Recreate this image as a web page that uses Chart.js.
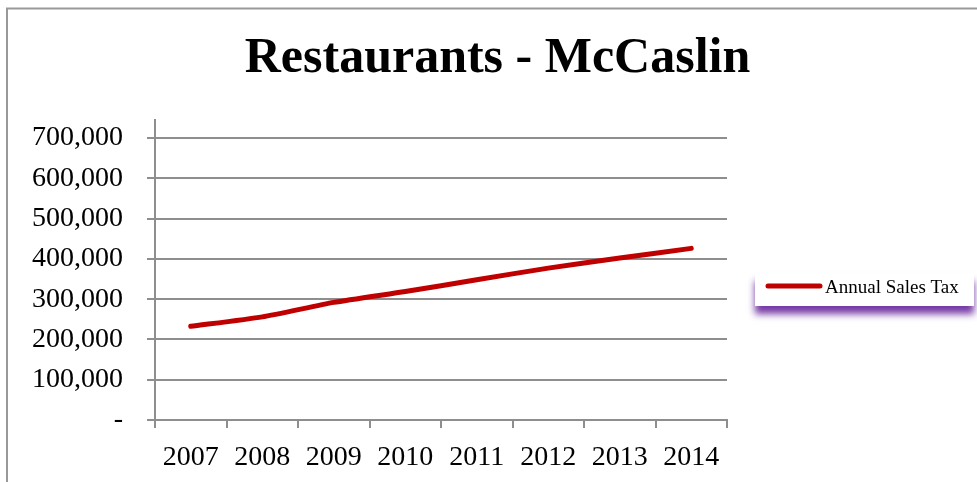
<!DOCTYPE html>
<html>
<head>
<meta charset="utf-8">
<script src="https://cdn.jsdelivr.net/npm/chart.js@4.4.1/dist/chart.umd.min.js"></script>
<style>
  html, body { margin: 0; padding: 0; background: #fff; }
  #wrap { width: 977px; height: 482px; position: relative; }
</style>
</head>
<body>
<div id="wrap"><canvas id="lineChart"></canvas></div>
<script>
/************************ DATA ************************** */
const years = ["2007", "2008", "2009", "2010", "2011", "2012", "2013", "2014"];
const salesTax = [232500, 256000, 292000, 319000, 348000, 377000, 402000, 426000];
const seriesLabel = "Annual Sales Tax";
const chartTitle = "Restaurants - McCaslin";

const SERIF = "'Liberation Serif', 'Times New Roman', serif";
const gridColor = "#8e8e8e";

/************************ PLUGINS ************************** */
// outer frame + little y axis stub above the plot
const framePlugin = {
  id: "frame",
  beforeDraw(chart) {
    const c = chart.ctx;
    c.save();
    c.fillStyle = "#fff";
    c.fillRect(0, 0, chart.width, chart.height);
    c.strokeStyle = "#999";
    c.lineWidth = 2;
    c.strokeRect(7, 8.5, chart.width + 20, chart.height + 20);
    c.restore();
  },
  afterDraw(chart) {
    const c = chart.ctx;
    const x = chart.scales.y.right;
    c.save();
    c.strokeStyle = gridColor;
    c.lineWidth = 2;
    c.beginPath();
    c.moveTo(x, 119);
    c.lineTo(x, chart.chartArea.top);
    c.stroke();
    c.restore();
  },
};

// legend box with the purple drop shadow
const legendBox = {
  id: "legendBox",
  afterDraw(chart) {
    const c = chart.ctx;
    const ds = chart.data.datasets[0];
    const bx = 755, by = 273, bw = 219, bh = 33;
    c.save();
    c.shadowColor = "rgba(112, 48, 160, 0.95)";
    c.shadowBlur = 7;
    c.shadowOffsetY = 8;
    c.fillStyle = "#fff";
    c.fillRect(bx, by, bw, bh);
    c.restore();

    c.save();
    c.strokeStyle = ds.borderColor;
    c.lineWidth = 5;
    c.lineCap = "round";
    c.beginPath();
    c.moveTo(768, 286);
    c.lineTo(820, 286);
    c.stroke();
    c.fillStyle = "#000";
    c.font = "19px " + SERIF;
    c.textBaseline = "alphabetic";
    c.fillText(ds.label, 825, 293);
    c.restore();
  },
};

/************************ CHART ************************** */
const ctx = document.getElementById("lineChart");
const config = {
  type: "line",
  data: {
    labels: years,
    datasets: [
      {
        label: seriesLabel,
        data: salesTax,
        borderColor: "#C00000",
        backgroundColor: "#C00000",
        borderWidth: 5,
        borderCapStyle: "round",
        pointRadius: 0,
        tension: 0.2,
        yAxisID: "y",
      },
    ],
  },
  options: {
    responsive: true,
    maintainAspectRatio: false,
    animation: false,
    layout: {
      padding: { left: 18, right: 0, top: 8, bottom: 0 },
    },
    scales: {
      x: {
        offset: true,
        grid: {
          offset: true,
          drawOnChartArea: false,
          drawTicks: true,
          tickLength: 8,
          color: gridColor,
          lineWidth: 2,
        },
        border: { color: gridColor, width: 2 },
        ticks: {
          color: "#000",
          font: { family: SERIF, size: 28 },
          padding: 13,
          maxRotation: 0,
        },
        afterFit: (scale) => {
          scale.height = 62;
        },
      },
      y: {
        min: 0,
        max: 700000,
        grid: {
          color: gridColor,
          lineWidth: 2,
          drawTicks: true,
          tickLength: 8,
        },
        border: { color: gridColor, width: 2 },
        ticks: {
          stepSize: 100000,
          color: "#000",
          font: { family: SERIF, size: 28 },
          padding: 24,
          callback: (value) => (value === 0 ? "-" : value.toLocaleString("en-US")),
        },
        afterFit: (scale) => {
          scale.width = 137;
        },
      },
      // empty right-hand axis, reserves room for the legend
      yRight: {
        position: "right",
        display: true,
        grid: { display: false },
        border: { display: false },
        ticks: { display: false },
        afterFit: (scale) => {
          scale.width = 250;
        },
      },
    },
    plugins: {
      legend: { display: false },
      tooltip: { enabled: false },
      title: {
        display: true,
        text: chartTitle,
        color: "#000",
        font: { family: SERIF, size: 50, weight: "bold" },
        padding: { top: 21, bottom: 49 },
      },
    },
  },
  plugins: [framePlugin, legendBox],
};

let myLineChart = new Chart(ctx, config);
</script>
</body>
</html>
